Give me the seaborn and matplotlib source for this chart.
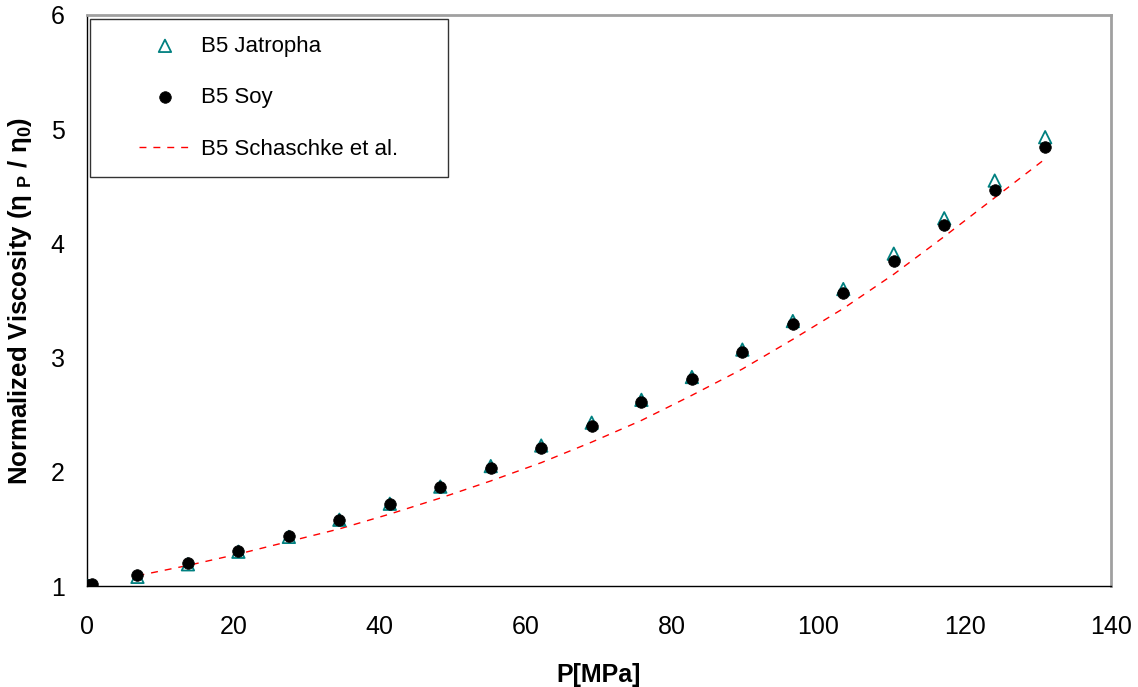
import matplotlib
matplotlib.use("Agg")
import matplotlib.pyplot as plt
import seaborn as sns
from matplotlib.legend_handler import HandlerLine2D, HandlerPathCollection
from matplotlib.lines import Line2D
from matplotlib.collections import PathCollection

# Pressure (MPa) and normalized viscosity values
pressure = [0.1, 0.69, 6.9, 13.8, 20.7, 27.6, 34.5, 41.4, 48.3, 55.2, 62.1,
            69.0, 75.8, 82.7, 89.6, 96.5, 103.4, 110.3, 117.2, 124.1, 131.0]
jatropha = [1.00, 1.00, 1.08, 1.19, 1.30, 1.43, 1.58, 1.72, 1.87, 2.05, 2.23,
            2.43, 2.63, 2.83, 3.07, 3.32, 3.60, 3.91, 4.22, 4.55, 4.93]
soy = [1.01, 1.02, 1.10, 1.20, 1.31, 1.44, 1.58, 1.72, 1.87, 2.03, 2.21,
       2.40, 2.61, 2.81, 3.05, 3.29, 3.57, 3.85, 4.16, 4.47, 4.84]

# Reference correlation curve
ref_pressure = [6.9, 13.8, 20.7, 27.6, 34.5, 41.4, 48.3, 55.2, 62.1, 69.0,
                75.8, 82.7, 89.6, 96.5, 103.4, 110.3, 117.2, 124.1, 131.0]
ref_visc = [1.09, 1.18, 1.28, 1.39, 1.50, 1.63, 1.77, 1.92, 2.08, 2.26,
            2.45, 2.67, 2.90, 3.16, 3.43, 3.73, 4.06, 4.40, 4.74]

x_ticks = [0, 20, 40, 60, 80, 100, 120, 140]
y_ticks = [1, 2, 3, 4, 5, 6]

sns.set_style("white")
plt.rcParams["font.family"] = ["Liberation Sans", "DejaVu Sans"]
plt.rcParams["text.color"] = "black"
plt.rcParams["axes.labelcolor"] = "black"
plt.rcParams["mathtext.fontset"] = "custom"
plt.rcParams["mathtext.rm"] = "Liberation Sans:bold"
plt.rcParams["mathtext.bf"] = "Liberation Sans:bold"
plt.rcParams["mathtext.it"] = "Liberation Sans:bold"

fig = plt.figure(figsize=(11.38, 6.87), dpi=100)
ax = fig.add_axes([87 / 1138, 1 - 586 / 687, 1024 / 1138, 571 / 687])

teal = "#008080"
sns.scatterplot(x=pressure, y=jatropha, ax=ax, marker="^", s=80,
                facecolor="none", edgecolor=teal, linewidth=1.3,
                label="B5 Jatropha", zorder=3)
sns.scatterplot(x=pressure, y=soy, ax=ax, marker="o", s=70,
                color="black", edgecolor="black", linewidth=0.5,
                label="B5 Soy", zorder=4)
sns.lineplot(x=ref_pressure, y=ref_visc, ax=ax, color="#ff0000",
             linewidth=1.0, linestyle=(0, (5, 5)), sort=False,
             estimator=None, label="B5 Schaschke et al.", zorder=2)

ax.set_xlim(0, 140)
ax.set_ylim(1, 6)
ax.set_xticks(x_ticks)
ax.set_yticks(y_ticks)
ax.tick_params(axis="both", direction="out", length=8, width=1,
               color="#404040", labelsize=18, labelcolor="black")
ax.tick_params(axis="x", pad=13)
ax.tick_params(axis="y", pad=8)

for side in ("left", "bottom"):
    ax.spines[side].set_color("black")
    ax.spines[side].set_linewidth(1.0)
for side in ("top", "right"):
    ax.spines[side].set_color("#a0a0a0")
    ax.spines[side].set_linewidth(2.0)

ax.set_xlabel("P[MPa]", fontsize=18, fontweight="bold", labelpad=17,
              color="black")
ax.set_ylabel(r"Normalized Viscosity (η $_{\mathrm{P}}$ / η$_{\mathrm{0}}$)",
              fontsize=18.5, fontweight="bold", labelpad=12, color="black")

handles, labels = ax.get_legend_handles_labels()
hmap = {Line2D: HandlerLine2D(xpad=1.47), PathCollection: HandlerPathCollection(xpad=1.47)}
leg = ax.legend(handles, labels, loc="upper left",
                bbox_to_anchor=(0.003, 0.72, 0.3496, 0.273), mode="expand",
                borderaxespad=0, fontsize=16, frameon=True, fancybox=False,
                edgecolor="black", handlelength=3.77, handletextpad=0.45,
                labelspacing=1.38, borderpad=0.75, scatterpoints=1,
                handler_map=hmap)
leg.get_frame().set_linewidth(1.0)
for t in leg.get_texts():
    t.set_color("black")

fig.savefig("out.png", dpi=100)
